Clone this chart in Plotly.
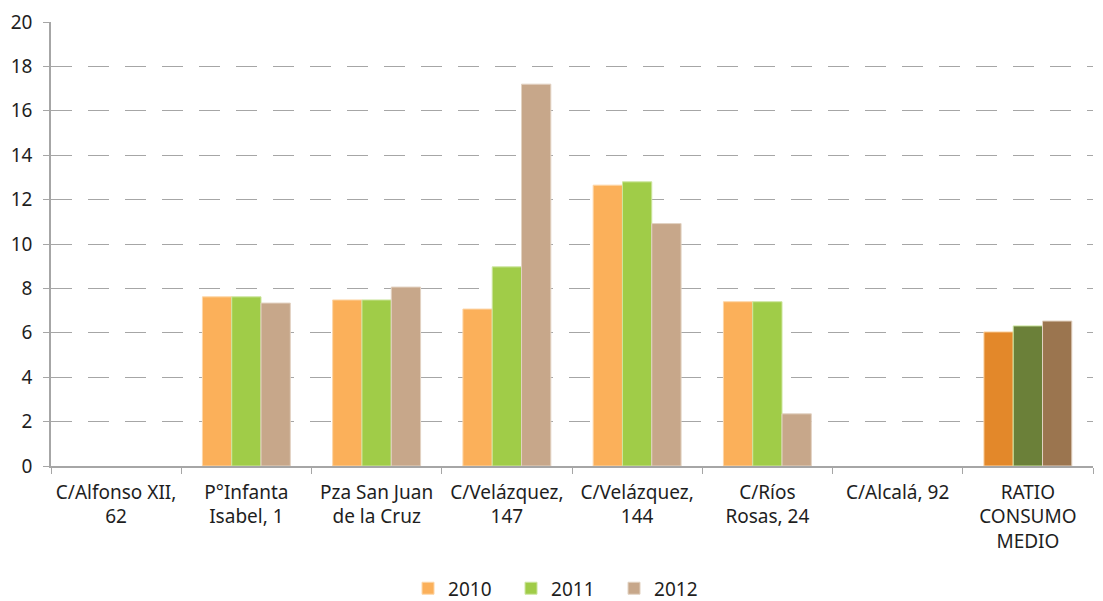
import plotly.graph_objects as go

categories = ["C/Alfonso XII,<br>62", "P°Infanta<br>Isabel, 1", "Pza San Juan<br>de la Cruz",
              "C/Velázquez,<br>147", "C/Velázquez,<br>144", "C/Ríos<br>Rosas, 24",
              "C/Alcalá, 92", "RATIO<br>CONSUMO<br>MEDIO"]
v2010 = [None, 7.62, 7.48, 7.07, 12.65, 7.40, None, 6.04]
v2011 = [None, 7.62, 7.48, 8.97, 12.80, 7.40, None, 6.31]
v2012 = [None, 7.34, 8.06, 17.20, 10.92, 2.35, None, 6.53]
series_names = ["2010", "2011", "2012"]
base_colors = ["#FBB05A", "#A0CC48", "#C7A78A"]
ratio_colors = ["#E3882A", "#6B8039", "#9B754F"]
line_colors = ["#FDD6A8", "#CDE6A0", "#E2D2C2"]

fig = go.Figure()
for name, vals, c, rc, lc in zip(series_names, [v2010, v2011, v2012], base_colors, ratio_colors, line_colors):
    colors = [c] * (len(categories) - 1) + [rc]
    fig.add_trace(go.Bar(
        x=categories, y=vals, name=name,
        marker=dict(color=colors, line=dict(color=lc, width=1)),
    ))

fig.update_layout(
    width=1103, height=601,
    margin=dict(l=51, r=10, t=22, b=135),
    paper_bgcolor="white", plot_bgcolor="white",
    barmode="group", bargap=0.325, bargroupgap=0,
    font=dict(family="Noto Sans", size=19, color="#1E1E1E"),
    showlegend=True,
    legend=dict(orientation="h", x=0.51, xanchor="center", xref="container",
                y=0.021, yanchor="middle", yref="container",
                font=dict(size=19), itemwidth=30, entrywidth=58, entrywidthmode="pixels",
                traceorder="normal"),
    xaxis=dict(showline=True, linecolor="#A6A6A6", linewidth=1.5,
               ticks="outside", tickson="boundaries", ticklen=6, tickcolor="#A6A6A6",
               showgrid=False, tickfont=dict(size=19), automargin=False,
               ticklabelstandoff=8),
    yaxis=dict(range=[0, 20], dtick=2, showline=True, linecolor="#A6A6A6", linewidth=1.5,
               ticks="outside", ticklen=6, tickcolor="#A6A6A6",
               showgrid=True, gridcolor="#A6A6A6", gridwidth=1.2, griddash="21px,16px",
               zeroline=False, tickfont=dict(size=19), automargin=False,
               ticklabelstandoff=7),
)

fig.write_html("out.html", config={"displayModeBar": False},
               post_script="document.body.style.margin='0';document.body.style.overflow='hidden';")
